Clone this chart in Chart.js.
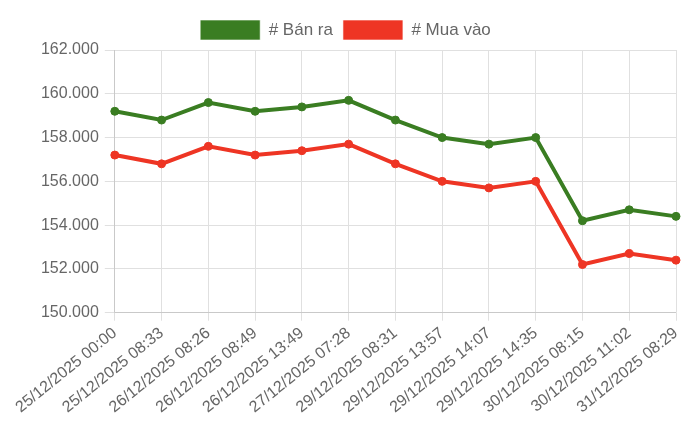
<!DOCTYPE html>
<html>
<head>
<meta charset="utf-8">
<script src="https://cdn.jsdelivr.net/npm/chart.js@4/dist/chart.umd.min.js"></script>
<style>
  html, body { margin: 0; padding: 0; background: #fff; }
  #wrap { width: 685px; height: 438px; margin-left: 15px; }
</style>
</head>
<body>
<div id="wrap"><canvas id="priceChart"></canvas></div>
<script>
const labels = [
  '25/12/2025 00:00', '25/12/2025 08:33', '26/12/2025 08:26', '26/12/2025 08:49',
  '26/12/2025 13:49', '27/12/2025 07:28', '29/12/2025 08:31', '29/12/2025 13:57',
  '29/12/2025 14:07', '29/12/2025 14:35', '30/12/2025 08:15', '30/12/2025 11:02',
  '31/12/2025 08:29'
];
const banRa = [159200, 158800, 159600, 159200, 159400, 159700, 158800, 158000, 157700, 158000, 154200, 154700, 154400];
const muaVao = [157200, 156800, 157600, 157200, 157400, 157700, 156800, 156000, 155700, 156000, 152200, 152700, 152400];

function formatVN(v) {
    return String(Math.round(v)).replace(/\B(?=(\d{3})+(?!\d))/g, '.');
}

Chart.defaults.font.family = '"Liberation Sans", Arial, sans-serif';
Chart.defaults.color = '#666';

const ctx = document.getElementById('priceChart').getContext('2d');
new Chart(ctx, {
    type: 'line',
    data: {
        labels: labels,
        datasets: [
            {
                label: '# Bán ra',
                data: banRa,
                borderColor: '#3a7d22',
                backgroundColor: '#3a7d22',
                borderWidth: 4,
                pointRadius: 4,
                pointBorderWidth: 1,
                tension: 0
            },
            {
                label: '# Mua vào',
                data: muaVao,
                borderColor: '#ee3524',
                backgroundColor: '#ee3524',
                borderWidth: 4,
                pointRadius: 4,
                pointBorderWidth: 1,
                tension: 0
            }
        ]
    },
    options: {
        responsive: true,
        maintainAspectRatio: false,
        animation: false,
        layout: { padding: { top: 10, left: 0, right: 24, bottom: 18 } },
        plugins: {
            legend: {
                display: true,
                labels: {
                    boxWidth: 60,
                    boxHeight: 20,
                    font: { size: 17 },
                    generateLabels: chart => {
                        const items = Chart.defaults.plugins.legend.labels.generateLabels(chart);
                        items.forEach(it => { it.lineWidth = 1; it.strokeStyle = 'rgba(255,255,255,0.6)'; });
                        return items;
                    }
                }
            },
            tooltip: { enabled: false }
        },
        scales: {
            x: {
                ticks: { font: { size: 16 }, maxRotation: 39, minRotation: 39, color: '#666' },
                grid: { color: '#e0e0e0' }
            },
            y: {
                min: 150000,
                max: 162000,
                ticks: { stepSize: 2000, font: { size: 16 }, padding: 6, callback: v => formatVN(v) },
                grid: { color: '#e0e0e0', tickLength: 10 }
            }
        }
    }
});
</script>
</body>
</html>
